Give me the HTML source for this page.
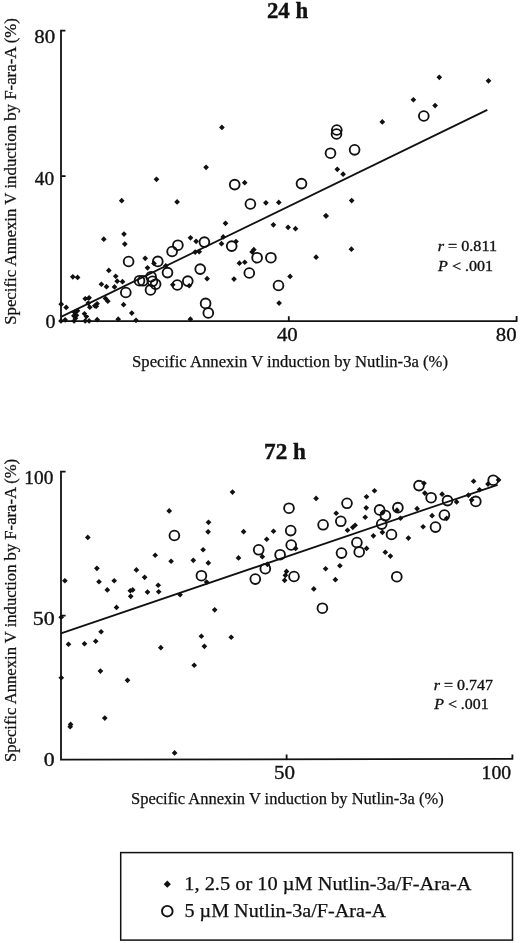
<!DOCTYPE html>
<html><head><meta charset="utf-8"><title>Annexin V induction scatter plots</title>
<style>
html,body{margin:0;padding:0;background:#fff;}
body{width:520px;height:943px;overflow:hidden;position:relative;}
svg{position:absolute;left:0;top:0;display:block;}
text{font-family:"Liberation Serif","Times New Roman",serif;fill:#111;stroke:#111;stroke-width:0.25;}
.ax{stroke:#111;stroke-width:1.8;fill:none;stroke-linecap:butt;}
.rl{stroke:#111;stroke-width:1.75;fill:none;}
.d{fill:#111;stroke:none;}
.c circle{fill:none;stroke:#111;stroke-width:1.85;}
</style></head>
<body>
<svg width="520" height="943" viewBox="0 0 520 943">
<text x="266.91" y="17.5" font-size="23" font-weight="bold" style="stroke-width:0.4px" textLength="41.24" lengthAdjust="spacingAndGlyphs">24 h</text>
<text x="264.09" y="458.9" font-size="23" font-weight="bold" style="stroke-width:0.4px" textLength="41.86" lengthAdjust="spacingAndGlyphs">72 h</text>
<text x="34.23" y="43.4" font-size="19.6" font-weight="normal" style="stroke-width:0.35px" textLength="20.90" lengthAdjust="spacingAndGlyphs">80</text>
<text x="34.80" y="185.3" font-size="19.6" font-weight="normal" style="stroke-width:0.35px" textLength="19.39" lengthAdjust="spacingAndGlyphs">40</text>
<text x="45.60" y="327.5" font-size="19.6" font-weight="normal" style="stroke-width:0.35px" textLength="10.01" lengthAdjust="spacingAndGlyphs">0</text>
<text x="276.90" y="341.2" font-size="19.6" font-weight="normal" style="stroke-width:0.35px" textLength="20.83" lengthAdjust="spacingAndGlyphs">40</text>
<text x="495.84" y="341.2" font-size="19.6" font-weight="normal" style="stroke-width:0.35px" textLength="20.79" lengthAdjust="spacingAndGlyphs">80</text>
<text x="24.33" y="483.7" font-size="19.6" font-weight="normal" style="stroke-width:0.35px" textLength="28.96" lengthAdjust="spacingAndGlyphs">100</text>
<text x="32.68" y="625.1" font-size="19.6" font-weight="normal" style="stroke-width:0.35px" textLength="21.99" lengthAdjust="spacingAndGlyphs">50</text>
<text x="43.80" y="766.1" font-size="19.6" font-weight="normal" style="stroke-width:0.35px" textLength="10.89" lengthAdjust="spacingAndGlyphs">0</text>
<text x="273.93" y="779.1" font-size="19.6" font-weight="normal" style="stroke-width:0.35px" textLength="21.01" lengthAdjust="spacingAndGlyphs">50</text>
<text x="481.59" y="778.6" font-size="19.6" font-weight="normal" style="stroke-width:0.35px" textLength="29.50" lengthAdjust="spacingAndGlyphs">100</text>
<text x="132.10" y="366.6" font-size="16.6" font-weight="normal" textLength="315.93" lengthAdjust="spacingAndGlyphs">Specific Annexin V induction by Nutlin-3a (%)</text>
<text x="131.01" y="804.3" font-size="16.6" font-weight="normal" textLength="312.72" lengthAdjust="spacingAndGlyphs">Specific Annexin V induction by Nutlin-3a (%)</text>
<text transform="translate(15.7 324.87) rotate(-90)" x="0" y="0" font-size="17.4" textLength="306.80" lengthAdjust="spacingAndGlyphs">Specific Annexin V induction by F-ara-A (%)</text>
<text transform="translate(15.7 761.96) rotate(-90)" x="0" y="0" font-size="17.4" textLength="303.08" lengthAdjust="spacingAndGlyphs">Specific Annexin V induction by F-ara-A (%)</text>
<text x="437.70" y="250.9" font-size="15" font-weight="normal" style="stroke-width:0.35px" textLength="59.28" lengthAdjust="spacingAndGlyphs"><tspan font-style="italic">r</tspan> = 0.811</text>
<text x="438.10" y="271.1" font-size="15" font-weight="normal" style="stroke-width:0.35px" textLength="54.92" lengthAdjust="spacingAndGlyphs"><tspan font-style="italic">P</tspan> &lt; .001</text>
<text x="433.70" y="689.5" font-size="15" font-weight="normal" style="stroke-width:0.35px" textLength="59.20" lengthAdjust="spacingAndGlyphs"><tspan font-style="italic">r</tspan> = 0.747</text>
<text x="434.20" y="709.3" font-size="15" font-weight="normal" style="stroke-width:0.35px" textLength="54.51" lengthAdjust="spacingAndGlyphs"><tspan font-style="italic">P</tspan> &lt; .001</text>
<text x="184.31" y="890.0" font-size="18.6" font-weight="normal" textLength="287.23" lengthAdjust="spacingAndGlyphs">1, 2.5 or 10 µM Nutlin-3a/F-Ara-A</text>
<text x="184.52" y="917.3" font-size="18.6" font-weight="normal" textLength="201.60" lengthAdjust="spacingAndGlyphs">5 µM Nutlin-3a/F-Ara-A</text>
<!-- Plot 1: 24 h -->
<path class="ax" d="M65.4 30.6H61V321.1H516.6V316"/>
<path class="ax" d="M61 176.1H65.6M288.8 321V316.2"/>
<path class="rl" d="M61 316.9L487.3 109.9"/>
<path class="d" d="M439.3 74.5l2.85 2.85 -2.85 2.85 -2.85 -2.85zM488.5 78.0l2.85 2.85 -2.85 2.85 -2.85 -2.85zM413.4 96.9l2.85 2.85 -2.85 2.85 -2.85 -2.85zM435.1 102.7l2.85 2.85 -2.85 2.85 -2.85 -2.85zM382.3 119.1l2.85 2.85 -2.85 2.85 -2.85 -2.85zM221.9 124.6l2.85 2.85 -2.85 2.85 -2.85 -2.85zM156.5 176.5l2.85 2.85 -2.85 2.85 -2.85 -2.85zM121.7 197.8l2.85 2.85 -2.85 2.85 -2.85 -2.85zM177.1 199.1l2.85 2.85 -2.85 2.85 -2.85 -2.85zM206.1 164.5l2.85 2.85 -2.85 2.85 -2.85 -2.85zM244.7 179.8l2.85 2.85 -2.85 2.85 -2.85 -2.85zM265.9 200.0l2.85 2.85 -2.85 2.85 -2.85 -2.85zM278.8 199.6l2.85 2.85 -2.85 2.85 -2.85 -2.85zM337.3 166.5l2.85 2.85 -2.85 2.85 -2.85 -2.85zM343.1 171.3l2.85 2.85 -2.85 2.85 -2.85 -2.85zM351.7 197.7l2.85 2.85 -2.85 2.85 -2.85 -2.85zM325.8 213.0l2.85 2.85 -2.85 2.85 -2.85 -2.85zM103.8 236.3l2.85 2.85 -2.85 2.85 -2.85 -2.85zM124.0 231.2l2.85 2.85 -2.85 2.85 -2.85 -2.85zM124.8 241.2l2.85 2.85 -2.85 2.85 -2.85 -2.85zM145.2 255.5l2.85 2.85 -2.85 2.85 -2.85 -2.85zM147.5 265.0l2.85 2.85 -2.85 2.85 -2.85 -2.85zM108.8 267.6l2.85 2.85 -2.85 2.85 -2.85 -2.85zM115.7 273.4l2.85 2.85 -2.85 2.85 -2.85 -2.85zM72.8 274.0l2.85 2.85 -2.85 2.85 -2.85 -2.85zM77.6 274.6l2.85 2.85 -2.85 2.85 -2.85 -2.85zM117.2 278.3l2.85 2.85 -2.85 2.85 -2.85 -2.85zM122.5 278.8l2.85 2.85 -2.85 2.85 -2.85 -2.85zM101.4 281.4l2.85 2.85 -2.85 2.85 -2.85 -2.85zM106.5 283.8l2.85 2.85 -2.85 2.85 -2.85 -2.85zM114.5 284.1l2.85 2.85 -2.85 2.85 -2.85 -2.85zM85.2 295.9l2.85 2.85 -2.85 2.85 -2.85 -2.85zM89.1 295.0l2.85 2.85 -2.85 2.85 -2.85 -2.85zM88.3 300.2l2.85 2.85 -2.85 2.85 -2.85 -2.85zM89.8 304.4l2.85 2.85 -2.85 2.85 -2.85 -2.85zM94.8 302.9l2.85 2.85 -2.85 2.85 -2.85 -2.85zM61.2 301.3l2.85 2.85 -2.85 2.85 -2.85 -2.85zM66.2 304.6l2.85 2.85 -2.85 2.85 -2.85 -2.85zM74.5 309.4l2.85 2.85 -2.85 2.85 -2.85 -2.85zM76.4 312.5l2.85 2.85 -2.85 2.85 -2.85 -2.85zM77.5 307.9l2.85 2.85 -2.85 2.85 -2.85 -2.85zM75.5 315.3l2.85 2.85 -2.85 2.85 -2.85 -2.85zM73.9 313.0l2.85 2.85 -2.85 2.85 -2.85 -2.85zM84.5 310.9l2.85 2.85 -2.85 2.85 -2.85 -2.85zM86.4 313.6l2.85 2.85 -2.85 2.85 -2.85 -2.85zM61.0 318.1l2.85 2.85 -2.85 2.85 -2.85 -2.85zM65.2 317.1l2.85 2.85 -2.85 2.85 -2.85 -2.85zM74.1 318.1l2.85 2.85 -2.85 2.85 -2.85 -2.85zM85.2 318.1l2.85 2.85 -2.85 2.85 -2.85 -2.85zM89.1 318.1l2.85 2.85 -2.85 2.85 -2.85 -2.85zM97.2 316.8l2.85 2.85 -2.85 2.85 -2.85 -2.85zM118.2 316.3l2.85 2.85 -2.85 2.85 -2.85 -2.85zM136.0 317.5l2.85 2.85 -2.85 2.85 -2.85 -2.85zM190.4 316.3l2.85 2.85 -2.85 2.85 -2.85 -2.85zM105.5 295.6l2.85 2.85 -2.85 2.85 -2.85 -2.85zM107.8 298.3l2.85 2.85 -2.85 2.85 -2.85 -2.85zM97.1 300.9l2.85 2.85 -2.85 2.85 -2.85 -2.85zM96.3 303.3l2.85 2.85 -2.85 2.85 -2.85 -2.85zM123.6 301.8l2.85 2.85 -2.85 2.85 -2.85 -2.85zM131.8 310.2l2.85 2.85 -2.85 2.85 -2.85 -2.85zM154.0 260.6l2.85 2.85 -2.85 2.85 -2.85 -2.85zM165.8 263.0l2.85 2.85 -2.85 2.85 -2.85 -2.85zM172.8 281.9l2.85 2.85 -2.85 2.85 -2.85 -2.85zM225.5 220.5l2.85 2.85 -2.85 2.85 -2.85 -2.85zM190.5 235.0l2.85 2.85 -2.85 2.85 -2.85 -2.85zM196.1 238.5l2.85 2.85 -2.85 2.85 -2.85 -2.85zM223.2 234.1l2.85 2.85 -2.85 2.85 -2.85 -2.85zM221.5 240.8l2.85 2.85 -2.85 2.85 -2.85 -2.85zM195.2 249.2l2.85 2.85 -2.85 2.85 -2.85 -2.85zM199.2 248.8l2.85 2.85 -2.85 2.85 -2.85 -2.85zM236.0 238.7l2.85 2.85 -2.85 2.85 -2.85 -2.85zM253.8 246.8l2.85 2.85 -2.85 2.85 -2.85 -2.85zM252.1 249.1l2.85 2.85 -2.85 2.85 -2.85 -2.85zM239.4 260.3l2.85 2.85 -2.85 2.85 -2.85 -2.85zM244.8 259.4l2.85 2.85 -2.85 2.85 -2.85 -2.85zM273.4 222.0l2.85 2.85 -2.85 2.85 -2.85 -2.85zM207.1 275.8l2.85 2.85 -2.85 2.85 -2.85 -2.85zM234.0 276.2l2.85 2.85 -2.85 2.85 -2.85 -2.85zM189.2 282.9l2.85 2.85 -2.85 2.85 -2.85 -2.85zM290.1 273.6l2.85 2.85 -2.85 2.85 -2.85 -2.85zM279.1 300.2l2.85 2.85 -2.85 2.85 -2.85 -2.85zM326.2 213.1l2.85 2.85 -2.85 2.85 -2.85 -2.85zM288.1 224.5l2.85 2.85 -2.85 2.85 -2.85 -2.85zM295.5 225.8l2.85 2.85 -2.85 2.85 -2.85 -2.85zM316.1 254.3l2.85 2.85 -2.85 2.85 -2.85 -2.85zM351.4 246.3l2.85 2.85 -2.85 2.85 -2.85 -2.85z"/>
<g class="c">
<circle cx="423.8" cy="116.0" r="4.9"/>
<circle cx="336.8" cy="130.0" r="4.9"/>
<circle cx="336.5" cy="134.0" r="4.9"/>
<circle cx="330.5" cy="153.2" r="4.9"/>
<circle cx="354.6" cy="149.8" r="4.9"/>
<circle cx="301.5" cy="183.6" r="4.9"/>
<circle cx="234.7" cy="184.6" r="4.9"/>
<circle cx="250.4" cy="204.0" r="4.9"/>
<circle cx="128.6" cy="261.5" r="4.9"/>
<circle cx="157.8" cy="261.4" r="4.9"/>
<circle cx="172.1" cy="251.5" r="4.9"/>
<circle cx="177.9" cy="245.2" r="4.9"/>
<circle cx="167.5" cy="272.6" r="4.9"/>
<circle cx="139.5" cy="280.7" r="4.9"/>
<circle cx="142.9" cy="280.8" r="4.9"/>
<circle cx="151.1" cy="276.7" r="4.9"/>
<circle cx="152.5" cy="281.3" r="4.9"/>
<circle cx="155.6" cy="284.2" r="4.9"/>
<circle cx="150.5" cy="289.9" r="4.9"/>
<circle cx="177.3" cy="285.0" r="4.9"/>
<circle cx="125.8" cy="292.5" r="4.9"/>
<circle cx="204.4" cy="242.1" r="4.9"/>
<circle cx="231.7" cy="246.1" r="4.9"/>
<circle cx="200.2" cy="269.1" r="4.9"/>
<circle cx="257.1" cy="257.7" r="4.9"/>
<circle cx="270.9" cy="257.7" r="4.9"/>
<circle cx="249.3" cy="273.0" r="4.9"/>
<circle cx="187.8" cy="281.1" r="4.9"/>
<circle cx="205.6" cy="303.4" r="4.9"/>
<circle cx="208.3" cy="312.9" r="4.9"/>
<circle cx="278.5" cy="285.5" r="4.9"/>
</g>
<!-- Plot 2: 72 h -->
<path class="ax" d="M65.6 471.6H61V759.7L512.4 758.8V754.4"/>
<path class="ax" d="M61 615.6H65.6M286.6 759.3V754.4"/>
<path class="rl" d="M61 633.4L497.6 484.8"/>
<path class="d" d="M87.8 534.6l2.85 2.85 -2.85 2.85 -2.85 -2.85zM232.5 489.2l2.85 2.85 -2.85 2.85 -2.85 -2.85zM169.2 508.1l2.85 2.85 -2.85 2.85 -2.85 -2.85zM208.5 519.5l2.85 2.85 -2.85 2.85 -2.85 -2.85zM208.1 529.0l2.85 2.85 -2.85 2.85 -2.85 -2.85zM316.1 495.6l2.85 2.85 -2.85 2.85 -2.85 -2.85zM243.6 528.8l2.85 2.85 -2.85 2.85 -2.85 -2.85zM273.5 528.4l2.85 2.85 -2.85 2.85 -2.85 -2.85zM266.7 536.4l2.85 2.85 -2.85 2.85 -2.85 -2.85zM374.5 487.9l2.85 2.85 -2.85 2.85 -2.85 -2.85zM366.5 493.9l2.85 2.85 -2.85 2.85 -2.85 -2.85zM366.2 505.0l2.85 2.85 -2.85 2.85 -2.85 -2.85zM365.2 514.4l2.85 2.85 -2.85 2.85 -2.85 -2.85zM382.6 509.8l2.85 2.85 -2.85 2.85 -2.85 -2.85zM397.0 507.3l2.85 2.85 -2.85 2.85 -2.85 -2.85zM400.5 515.4l2.85 2.85 -2.85 2.85 -2.85 -2.85zM382.4 529.5l2.85 2.85 -2.85 2.85 -2.85 -2.85zM373.4 533.0l2.85 2.85 -2.85 2.85 -2.85 -2.85zM336.2 510.4l2.85 2.85 -2.85 2.85 -2.85 -2.85zM355.1 522.4l2.85 2.85 -2.85 2.85 -2.85 -2.85zM352.8 524.5l2.85 2.85 -2.85 2.85 -2.85 -2.85zM347.5 527.4l2.85 2.85 -2.85 2.85 -2.85 -2.85zM408.4 535.2l2.85 2.85 -2.85 2.85 -2.85 -2.85zM424.0 480.4l2.85 2.85 -2.85 2.85 -2.85 -2.85zM424.8 490.2l2.85 2.85 -2.85 2.85 -2.85 -2.85zM442.1 491.3l2.85 2.85 -2.85 2.85 -2.85 -2.85zM456.6 499.1l2.85 2.85 -2.85 2.85 -2.85 -2.85zM417.1 505.8l2.85 2.85 -2.85 2.85 -2.85 -2.85zM432.1 512.8l2.85 2.85 -2.85 2.85 -2.85 -2.85zM446.7 515.5l2.85 2.85 -2.85 2.85 -2.85 -2.85zM423.1 523.9l2.85 2.85 -2.85 2.85 -2.85 -2.85zM498.6 477.1l2.85 2.85 -2.85 2.85 -2.85 -2.85zM488.0 481.2l2.85 2.85 -2.85 2.85 -2.85 -2.85zM473.6 478.4l2.85 2.85 -2.85 2.85 -2.85 -2.85zM479.5 486.9l2.85 2.85 -2.85 2.85 -2.85 -2.85zM468.4 492.3l2.85 2.85 -2.85 2.85 -2.85 -2.85zM471.7 497.1l2.85 2.85 -2.85 2.85 -2.85 -2.85zM61.2 614.4l2.85 2.85 -2.85 2.85 -2.85 -2.85zM68.5 641.4l2.85 2.85 -2.85 2.85 -2.85 -2.85zM84.5 640.9l2.85 2.85 -2.85 2.85 -2.85 -2.85zM95.7 638.4l2.85 2.85 -2.85 2.85 -2.85 -2.85zM101.1 628.9l2.85 2.85 -2.85 2.85 -2.85 -2.85zM96.9 565.5l2.85 2.85 -2.85 2.85 -2.85 -2.85zM64.9 577.9l2.85 2.85 -2.85 2.85 -2.85 -2.85zM99.0 578.9l2.85 2.85 -2.85 2.85 -2.85 -2.85zM114.2 577.9l2.85 2.85 -2.85 2.85 -2.85 -2.85zM107.3 587.1l2.85 2.85 -2.85 2.85 -2.85 -2.85zM136.4 567.1l2.85 2.85 -2.85 2.85 -2.85 -2.85zM144.6 574.5l2.85 2.85 -2.85 2.85 -2.85 -2.85zM130.3 587.9l2.85 2.85 -2.85 2.85 -2.85 -2.85zM132.7 587.1l2.85 2.85 -2.85 2.85 -2.85 -2.85zM130.7 593.5l2.85 2.85 -2.85 2.85 -2.85 -2.85zM147.5 589.2l2.85 2.85 -2.85 2.85 -2.85 -2.85zM116.5 604.6l2.85 2.85 -2.85 2.85 -2.85 -2.85zM155.2 552.4l2.85 2.85 -2.85 2.85 -2.85 -2.85zM171.1 558.4l2.85 2.85 -2.85 2.85 -2.85 -2.85zM203.1 546.9l2.85 2.85 -2.85 2.85 -2.85 -2.85zM193.3 557.5l2.85 2.85 -2.85 2.85 -2.85 -2.85zM208.3 560.1l2.85 2.85 -2.85 2.85 -2.85 -2.85zM206.6 579.2l2.85 2.85 -2.85 2.85 -2.85 -2.85zM158.2 582.4l2.85 2.85 -2.85 2.85 -2.85 -2.85zM158.7 588.9l2.85 2.85 -2.85 2.85 -2.85 -2.85zM180.1 591.9l2.85 2.85 -2.85 2.85 -2.85 -2.85zM214.7 607.0l2.85 2.85 -2.85 2.85 -2.85 -2.85zM238.5 555.1l2.85 2.85 -2.85 2.85 -2.85 -2.85zM262.3 553.8l2.85 2.85 -2.85 2.85 -2.85 -2.85zM295.6 545.6l2.85 2.85 -2.85 2.85 -2.85 -2.85zM267.4 561.5l2.85 2.85 -2.85 2.85 -2.85 -2.85zM286.5 568.6l2.85 2.85 -2.85 2.85 -2.85 -2.85zM285.4 572.5l2.85 2.85 -2.85 2.85 -2.85 -2.85zM284.6 577.5l2.85 2.85 -2.85 2.85 -2.85 -2.85zM313.8 586.1l2.85 2.85 -2.85 2.85 -2.85 -2.85zM366.6 545.6l2.85 2.85 -2.85 2.85 -2.85 -2.85zM385.3 549.4l2.85 2.85 -2.85 2.85 -2.85 -2.85zM390.4 553.2l2.85 2.85 -2.85 2.85 -2.85 -2.85zM325.6 565.9l2.85 2.85 -2.85 2.85 -2.85 -2.85zM339.9 562.9l2.85 2.85 -2.85 2.85 -2.85 -2.85zM335.4 576.8l2.85 2.85 -2.85 2.85 -2.85 -2.85zM100.4 668.2l2.85 2.85 -2.85 2.85 -2.85 -2.85zM61.3 674.9l2.85 2.85 -2.85 2.85 -2.85 -2.85zM127.5 677.5l2.85 2.85 -2.85 2.85 -2.85 -2.85zM201.4 633.4l2.85 2.85 -2.85 2.85 -2.85 -2.85zM204.4 643.5l2.85 2.85 -2.85 2.85 -2.85 -2.85zM160.8 644.8l2.85 2.85 -2.85 2.85 -2.85 -2.85zM194.2 662.4l2.85 2.85 -2.85 2.85 -2.85 -2.85zM231.2 634.4l2.85 2.85 -2.85 2.85 -2.85 -2.85zM104.8 715.2l2.85 2.85 -2.85 2.85 -2.85 -2.85zM70.6 721.6l2.85 2.85 -2.85 2.85 -2.85 -2.85zM70.2 723.9l2.85 2.85 -2.85 2.85 -2.85 -2.85zM174.6 750.1l2.85 2.85 -2.85 2.85 -2.85 -2.85z"/>
<g class="c">
<circle cx="174.4" cy="535.5" r="4.9"/>
<circle cx="289.0" cy="508.2" r="4.9"/>
<circle cx="290.7" cy="530.6" r="4.9"/>
<circle cx="291.2" cy="545.0" r="4.9"/>
<circle cx="323.1" cy="524.8" r="4.9"/>
<circle cx="347.0" cy="503.3" r="4.9"/>
<circle cx="379.6" cy="509.9" r="4.9"/>
<circle cx="385.4" cy="515.6" r="4.9"/>
<circle cx="397.9" cy="507.6" r="4.9"/>
<circle cx="381.7" cy="524.1" r="4.9"/>
<circle cx="391.5" cy="534.5" r="4.9"/>
<circle cx="340.8" cy="521.3" r="4.9"/>
<circle cx="356.9" cy="542.5" r="4.9"/>
<circle cx="419.0" cy="485.6" r="4.9"/>
<circle cx="431.1" cy="497.7" r="4.9"/>
<circle cx="447.5" cy="500.6" r="4.9"/>
<circle cx="444.4" cy="515.0" r="4.9"/>
<circle cx="435.5" cy="527.1" r="4.9"/>
<circle cx="493.2" cy="480.2" r="4.9"/>
<circle cx="475.8" cy="501.4" r="4.9"/>
<circle cx="201.4" cy="575.7" r="4.9"/>
<circle cx="258.7" cy="549.8" r="4.9"/>
<circle cx="280.1" cy="554.7" r="4.9"/>
<circle cx="265.3" cy="568.7" r="4.9"/>
<circle cx="255.3" cy="579.1" r="4.9"/>
<circle cx="294.0" cy="576.5" r="4.9"/>
<circle cx="341.5" cy="553.1" r="4.9"/>
<circle cx="359.2" cy="551.9" r="4.9"/>
<circle cx="396.8" cy="576.7" r="4.9"/>
<circle cx="322.4" cy="608.2" r="4.9"/>
</g>
<!-- Legend -->
<rect x="120.7" y="852.6" width="391.8" height="87.5" fill="none" stroke="#111" stroke-width="1.5"/>
<path class="d" d="M167.3 880.6l3.6 3.6 -3.6 3.6 -3.6 -3.6z"/>
<circle cx="167.3" cy="911.2" r="5.3" fill="none" stroke="#111" stroke-width="1.9"/>
</svg>
</body></html>
